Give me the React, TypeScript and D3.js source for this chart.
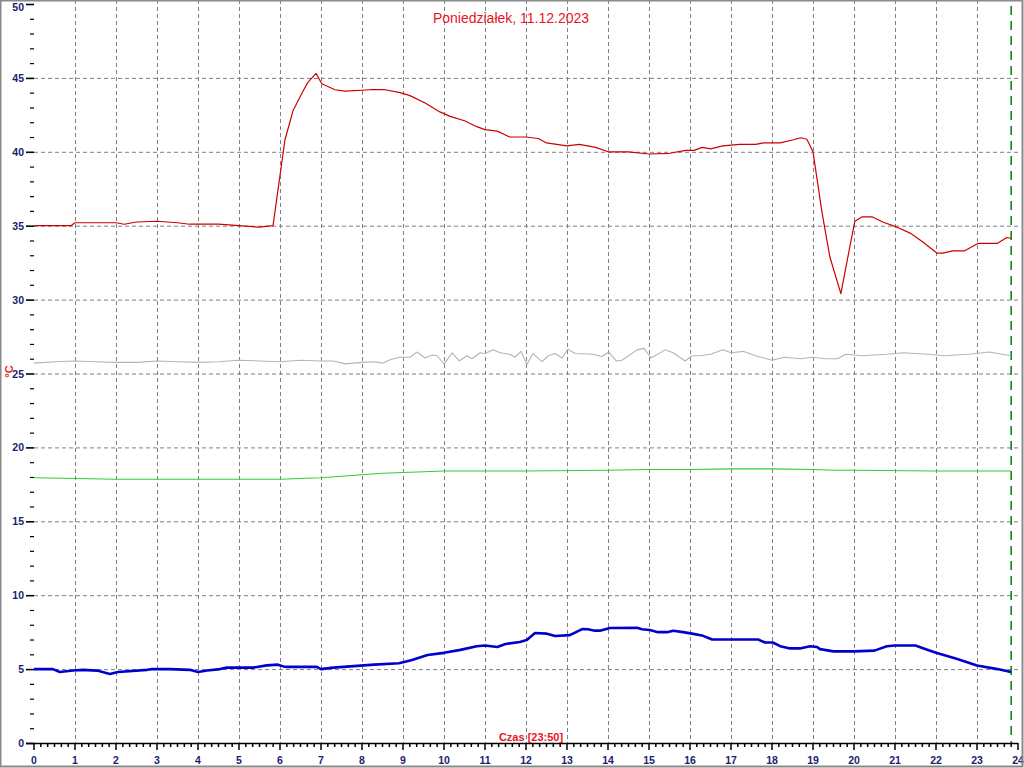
import React from "react";
import * as d3 from "d3";

const TITLE = "Poniedziałek, 11.12.2023";
const XLABEL = "Czas [23:50]";
const YLABEL = "°C";
const NOW_HOUR = 23 + 50 / 60;

const xTicks = d3.range(0, 25);
const yMajor = [0, 5, 10, 15, 20, 25, 30, 35, 40, 45, 50];

const redT = [0, 0.5, 0.9, 1.0, 1.5, 2.0, 2.2, 2.5, 3.0, 3.5, 3.8, 4.5, 5.0, 5.5, 5.83, 6.12, 6.32, 6.54, 6.68, 6.88, 7.02, 7.34, 7.59, 8.2, 8.56, 8.93, 9.17, 9.54, 9.9, 10.15, 10.5, 10.8, 11.0, 11.3, 11.6, 12.0, 12.3, 12.5, 13.0, 13.3, 13.7, 14.0, 14.5, 15.0, 15.5, 15.9, 16.1, 16.3, 16.5, 16.8, 17.2, 17.6, 17.8, 18.2, 18.5, 18.7, 18.85, 19.0, 19.22, 19.41, 19.68, 19.9, 20.02, 20.2, 20.44, 20.7, 21.05, 21.37, 21.68, 22.02, 22.17, 22.4, 22.7, 23.02, 23.49, 23.73, 23.83];
const redV = [35.0, 35.0, 35.0, 35.2, 35.2, 35.2, 35.1, 35.25, 35.3, 35.2, 35.1, 35.1, 35.0, 34.9, 35.0, 40.8, 42.8, 44.0, 44.7, 45.3, 44.6, 44.2, 44.1, 44.2, 44.2, 44.0, 43.8, 43.3, 42.7, 42.4, 42.1, 41.7, 41.5, 41.4, 41.0, 41.0, 40.9, 40.6, 40.4, 40.5, 40.3, 40.0, 40.0, 39.85, 39.9, 40.1, 40.1, 40.3, 40.2, 40.4, 40.5, 40.5, 40.6, 40.6, 40.8, 40.95, 40.85, 40.0, 35.9, 32.9, 30.4, 33.6, 35.3, 35.6, 35.6, 35.25, 34.9, 34.5, 33.9, 33.15, 33.15, 33.3, 33.3, 33.8, 33.8, 34.2, 34.15];

const grayT = [0, 0.5, 1, 1.5, 2, 2.5, 3, 3.5, 4, 4.5, 5, 5.5, 6, 6.5, 7, 7.3, 7.6, 8, 8.3, 8.5, 8.7, 8.93, 9.17, 9.34, 9.54, 9.71, 9.83, 10.0, 10.2, 10.37, 10.56, 10.68, 10.88, 11.0, 11.2, 11.37, 11.61, 11.73, 11.88, 12.02, 12.17, 12.39, 12.54, 12.71, 12.88, 13.02, 13.2, 13.63, 13.85, 14.02, 14.2, 14.34, 14.71, 14.88, 15.05, 15.39, 15.59, 15.88, 16.05, 16.24, 16.5, 16.8, 17.0, 17.3, 17.6, 18.0, 18.3, 18.7, 19.0, 19.3, 19.6, 19.8, 20.2, 20.8, 21.2, 21.8, 22.2, 22.8, 23.3, 23.83];
const grayV = [25.7, 25.8, 25.85, 25.8, 25.75, 25.75, 25.85, 25.8, 25.75, 25.8, 25.9, 25.85, 25.8, 25.9, 25.85, 25.85, 25.65, 25.75, 25.8, 25.7, 25.95, 26.1, 26.1, 26.45, 26.05, 26.25, 26.2, 25.65, 26.4, 25.85, 26.2, 26.0, 26.4, 26.35, 26.6, 26.4, 26.3, 26.1, 26.5, 25.6, 26.35, 25.8, 26.2, 26.35, 26.05, 26.65, 26.35, 26.3, 26.15, 26.45, 25.85, 25.9, 26.6, 26.7, 26.05, 26.6, 26.4, 25.85, 26.2, 26.2, 26.3, 26.6, 26.4, 26.5, 26.2, 25.9, 26.1, 26.0, 26.1, 26.0, 26.0, 26.3, 26.2, 26.3, 26.4, 26.3, 26.2, 26.3, 26.45, 26.2];

const greenT = [0, 1, 2, 3, 4, 5, 6, 6.5, 7, 7.5, 8, 8.5, 9, 9.5, 10, 12, 14, 15, 16, 17, 18, 19, 19.5, 20, 22, 23.83];
const greenV = [17.95, 17.9, 17.85, 17.85, 17.85, 17.85, 17.85, 17.9, 17.95, 18.05, 18.15, 18.25, 18.3, 18.35, 18.4, 18.4, 18.45, 18.5, 18.5, 18.55, 18.55, 18.5, 18.45, 18.45, 18.4, 18.4];

const blueT = [0, 0.46, 0.63, 0.95, 1.2, 1.54, 1.85, 2.05, 2.76, 2.88, 3.32, 3.8, 4.0, 4.22, 4.54, 4.7, 5.34, 5.68, 5.95, 6.12, 6.49, 6.9, 7.0, 7.3, 7.8, 8.3, 8.9, 9.2, 9.6, 10.0, 10.4, 10.8, 11.0, 11.3, 11.5, 11.85, 12.02, 12.22, 12.51, 12.71, 13.07, 13.37, 13.51, 13.68, 13.8, 14.05, 14.71, 14.83, 15.02, 15.22, 15.44, 15.59, 15.83, 16.05, 16.32, 16.54, 17.66, 17.83, 18.02, 18.2, 18.44, 18.68, 18.93, 19.1, 19.17, 19.5, 20.0, 20.5, 20.8, 21.0, 21.5, 21.7, 22.0, 22.5, 23.0, 23.5, 23.83];
const blueV = [5.0, 5.0, 4.8, 4.9, 4.95, 4.9, 4.67, 4.8, 4.95, 5.0, 5.0, 4.95, 4.8, 4.9, 5.0, 5.1, 5.1, 5.25, 5.3, 5.15, 5.15, 5.15, 5.0, 5.1, 5.2, 5.3, 5.4, 5.6, 5.95, 6.1, 6.3, 6.55, 6.6, 6.5, 6.7, 6.83, 6.97, 7.44, 7.4, 7.24, 7.3, 7.71, 7.7, 7.6, 7.6, 7.78, 7.8, 7.7, 7.65, 7.5, 7.5, 7.6, 7.5, 7.4, 7.25, 7.0, 7.0, 6.8, 6.8, 6.55, 6.4, 6.4, 6.55, 6.5, 6.35, 6.2, 6.2, 6.25, 6.55, 6.6, 6.6, 6.4, 6.1, 5.7, 5.25, 5.0, 4.8];

const series = [
  { t: grayT, v: grayV, color: "#b4b4b4", width: 1.1 },
  { t: greenT, v: greenV, color: "#33cc33", width: 1.1 },
  { t: redT, v: redV, color: "#cc0000", width: 1.2 },
  { t: blueT, v: blueV, color: "#0000cc", width: 2.6 },
];

const W = 1024;
const H = 768;
const FONT = "'Liberation Sans', Arial, sans-serif";

export default function App() {
  const x = d3.scaleLinear().domain([0, 24]).range([34, 1018]);
  const y = d3.scaleLinear().domain([0, 50]).range([743, 4]);
  const line = d3
    .line<[number, number]>()
    .x((d) => x(d[0]))
    .y((d) => y(d[1]));
  const yMinor = d3.range(0, 51).filter((v) => v % 5 !== 0);
  const xMinor = d3.range(0, 24 * 6 + 1).filter((i) => i % 6 !== 0).map((i) => i / 6);

  return (
    <svg
      width={W}
      height={H}
      style={{ position: "absolute", left: 0, top: 0, background: "#fff" }}
      fontFamily={FONT}
    >
      <rect x={0} y={0} width={W} height={H} fill="#fff" />
      {/* grid */}
      {xTicks.filter((h) => h > 0 && h < 24).map((h) => (
        <line key={"gx" + h} x1={x(h) + 0.5} x2={x(h) + 0.5} y1={0} y2={y(0)} stroke="#808080" strokeDasharray="4,3" strokeWidth={1} />
      ))}
      {yMajor.filter((v) => v > 0 && v < 50).map((v) => (
        <line key={"gy" + v} x1={x(0)} x2={x(24)} y1={y(v) + 0.5} y2={y(v) + 0.5} stroke="#808080" strokeDasharray="4,3" strokeWidth={1} />
      ))}
      {/* now marker */}
      <line x1={x(NOW_HOUR)} x2={x(NOW_HOUR)} y1={6} y2={y(0)} stroke="#008000" strokeWidth={1.5} strokeDasharray="9,6" />
      {/* series */}
      {series.map((s, i) => (
        <path
          key={"s" + i}
          d={line(s.t.map((t, j) => [t, s.v[j]] as [number, number])) || ""}
          fill="none"
          stroke={s.color}
          strokeWidth={s.width}
          strokeLinejoin="round"
        />
      ))}
      {/* x axis */}
      <line x1={x(0) - 8} x2={x(24)} y1={y(0) + 0.5} y2={y(0) + 0.5} stroke="#000" strokeWidth={1.5} />
      {xMinor.map((h) => (
        <line key={"xm" + h} x1={x(h)} x2={x(h)} y1={y(0)} y2={y(0) + 4} stroke="#000" strokeWidth={1.5} />
      ))}
      {xTicks.map((h) => (
        <g key={"xt" + h}>
          <line x1={x(h)} x2={x(h)} y1={y(0)} y2={y(0) + 7} stroke="#000" strokeWidth={1.5} />
          <text x={x(h)} y={764} textAnchor="middle" fontSize={10.5} fontWeight="bold" fill="#1c1c70">
            {h}
          </text>
        </g>
      ))}
      {/* y axis */}
      {yMinor.map((v) => (
        <line key={"ym" + v} x1={x(0) - 4} x2={x(0)} y1={y(v) + 0.5} y2={y(v) + 0.5} stroke="#000" strokeWidth={1.2} />
      ))}
      {yMajor.map((v) => (
        <g key={"yt" + v}>
          <line x1={x(0) - 8} x2={x(0)} y1={y(v) + 0.5} y2={y(v) + 0.5} stroke="#000" strokeWidth={1.6} />
          <text x={x(0) - 10} y={Math.max(y(v) + 4, 11)} textAnchor="end" fontSize={10.5} fontWeight="bold" fill="#1c1c70">
            {v}
          </text>
        </g>
      ))}
      {/* labels */}
      <text x={511} y={23} textAnchor="middle" fontSize={14} fill="#e8141e">
        {TITLE}
      </text>
      <text x={531} y={741} textAnchor="middle" fontSize={11} fontWeight="bold" fill="#e8141e">
        {XLABEL}
      </text>
      <text transform={`translate(13,${y(25) - 2}) rotate(-90)`} textAnchor="middle" fontSize={11} fontWeight="bold" fill="#e8141e">
        {YLABEL}
      </text>
      {/* frame */}
      <rect x={0.5} y={0.5} width={1022} height={766} fill="none" stroke="#8a8a8a" strokeWidth={2} />
    </svg>
  );
}
